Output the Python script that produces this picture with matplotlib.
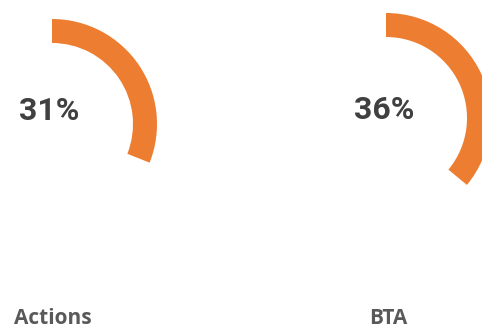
import matplotlib.pyplot as plt

# two progress rings, one per category
names = ['Actions', 'BTA']
shares = [31, 36]

ORANGE = '#ED7D31'
W, H = 482, 330
DPI = 100

fig = plt.figure(figsize=(W / DPI, H / DPI), dpi=DPI)
fig.patch.set_facecolor('white')

# ring geometry in pixels (centre x, centre y from top), radius, ring width
centres = [(52, 124), (386, 118)]
R = 105
ring = 24
value_pos = [(49, 120), (384, 119)]   # text centre x, baseline y
label_x = [53, 388]


def px(x, y):
    return x / W, 1 - y / H


for name, share, (cx, cy), (vx, vy), lx in zip(names, shares, centres,
                                              value_pos, label_x):
    ax = fig.add_axes([(cx - R) / W, 1 - (cy + R) / H, 2 * R / W, 2 * R / H])
    ax.pie([share, 100 - share], startangle=90, counterclock=False,
           colors=[ORANGE, 'none'], radius=1,
           wedgeprops=dict(width=ring / R, linewidth=0))
    ax.set_xlim(-1, 1)
    ax.set_ylim(-1, 1)
    ax.set_aspect('equal')
    ax.axis('off')
    fig.text(*px(vx, vy), f'{share}%', ha='center', va='baseline',
             fontsize=23, fontweight='bold', color='#404040',
             family='Roboto')
    fig.text(*px(lx, 324), name, ha='center', va='baseline',
             fontsize=15, fontweight='bold', color='#595959',
             family='Open Sans')

fig.savefig('out.png', dpi=DPI, facecolor='white')
